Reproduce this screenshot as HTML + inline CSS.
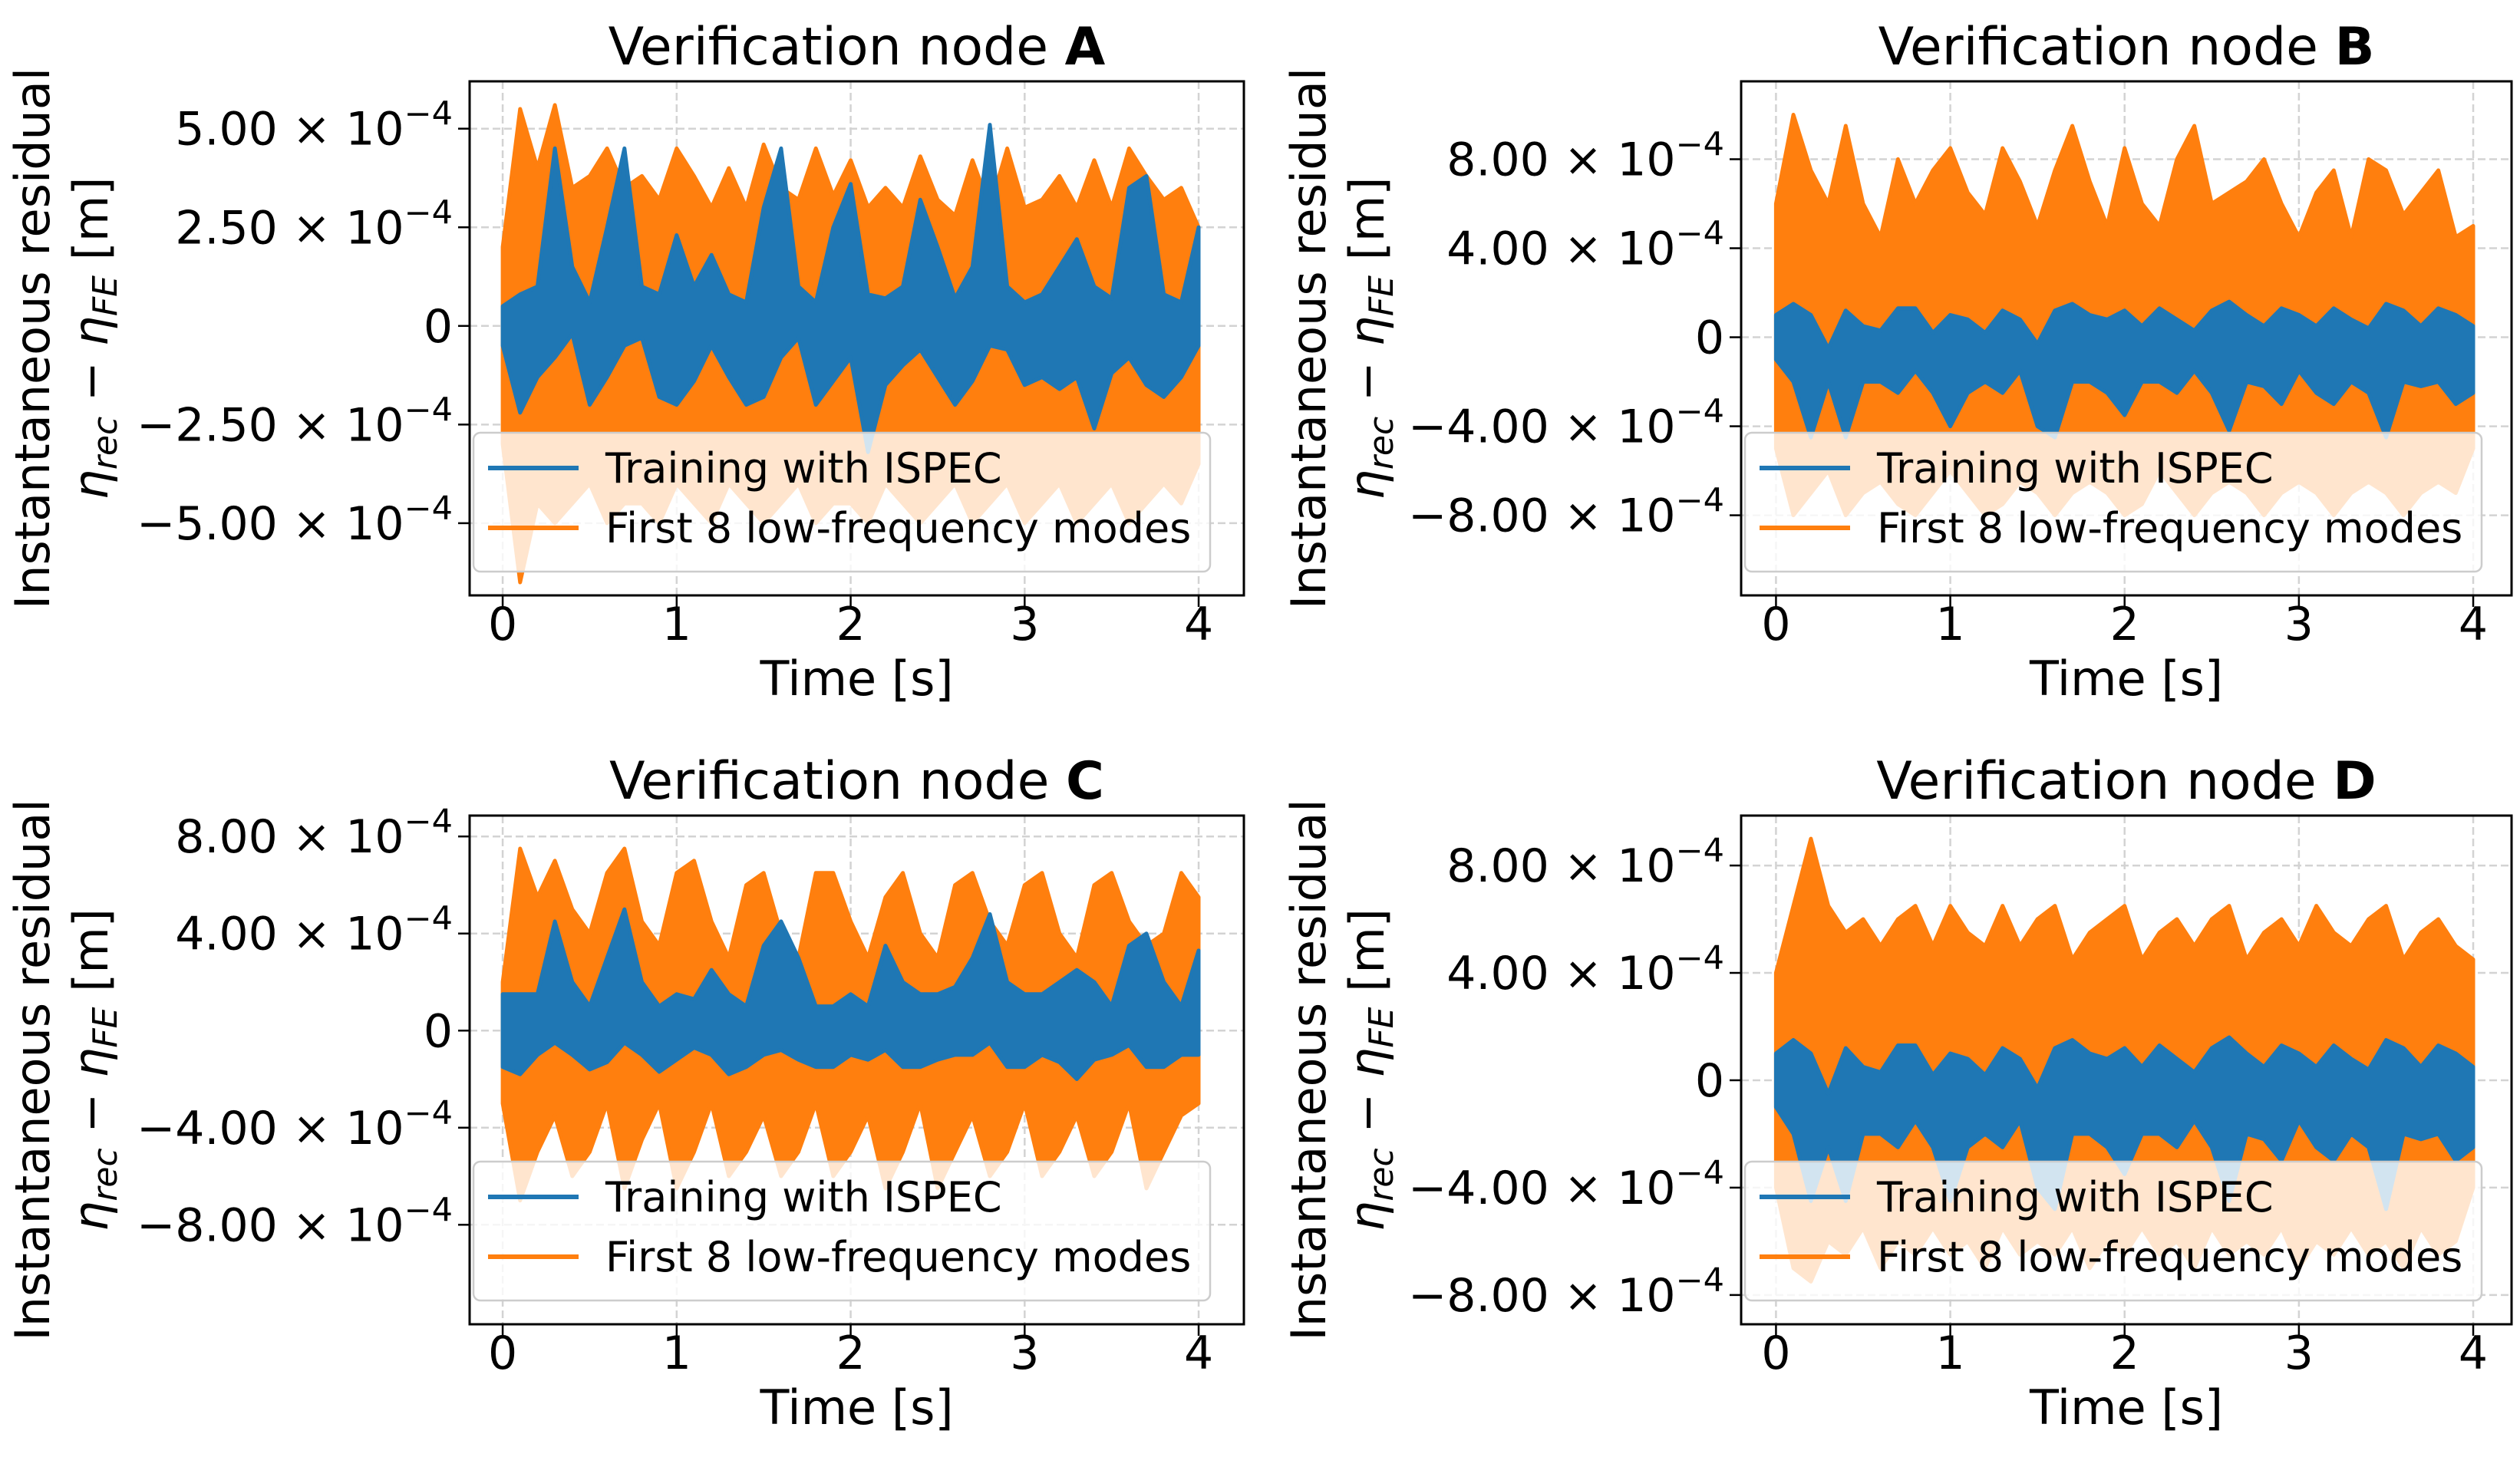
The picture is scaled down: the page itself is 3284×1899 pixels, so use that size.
<!DOCTYPE html>
<html><head><meta charset="utf-8">
<style>
html,body{margin:0;padding:0;background:#fff;}
svg{display:block;font-family:"DejaVu Sans","Liberation Sans",sans-serif;}
</style></head>
<body>
<svg id="fig" width="3284" height="1899" viewBox="0 0 3284 1899" xmlns="http://www.w3.org/2000/svg">
<rect width="3284" height="1899" fill="#fff"/>
</svg>
<script>
// time samples (s)
const timeA = [0,0.1,0.2,0.3,0.4,0.5,0.6,0.7,0.8,0.9,1.0,1.1,1.2,1.3,1.4,1.5,1.6,1.7,1.8,1.9,2.0,2.1,2.2,2.3,2.4,2.5,2.6,2.7,2.8,2.9,3.0,3.1,3.2,3.3,3.4,3.5,3.6,3.7,3.8,3.9,4.0];
// values in units of 1e-4 m
const orangeUpperA = [2,5.5,4,5.6,3.5,3.8,4.5,3.5,3.8,3.2,4.5,3.8,3,4,3,4.6,3.5,3.2,4.5,3.3,4.2,3,3.5,3,4.3,3.2,2.8,4.2,3,4.5,3,3.2,3.8,3,4.2,3,4.5,3.8,3.2,3.5,2.5];
const orangeLowerA = [-3,-6.5,-4.5,-5,-4.5,-4,-5,-4.5,-4.5,-5,-4,-4.5,-5,-4,-4.5,-5,-4.5,-4,-5,-4.5,-4.5,-5,-4,-4.5,-5,-4.5,-4,-5,-4.5,-4,-5,-4.5,-4,-5,-4.5,-4,-5,-4.5,-4,-4.5,-3.5];
const blueUpperA = [0.5,0.8,1,4.5,1.5,0.6,2.5,4.5,1,0.8,2.3,1,1.8,0.8,0.6,3,4.5,1,0.6,2.5,3.6,0.8,0.7,1,3.2,2,0.7,1.5,5.1,1,0.6,0.8,1.5,2.2,1,0.7,3.5,3.8,0.8,0.6,2.5];
const blueLowerA = [-0.5,-2.2,-1.3,-0.8,-0.2,-2,-1.3,-0.5,-0.3,-1.8,-2,-1.4,-0.5,-1.3,-2,-1.8,-0.8,-0.3,-2,-1.4,-0.8,-3.2,-1.5,-1,-0.6,-1.3,-2,-1.4,-0.5,-0.6,-1.5,-1.3,-1.6,-1.3,-2.6,-1.2,-0.8,-1.5,-1.8,-1.3,-0.5];

const orangeUpperB = [6,10,7.5,6,9.5,6,4.5,8,6,7.5,8.5,6.5,5.5,8.5,7,5,7.5,9.5,7,5,8.5,6,5,8,9.5,6,6.5,7,8,6,4.5,6.5,7.5,4.5,8,7.5,5.5,6.5,7.5,4.5,5];
const orangeLowerB = [-5,-8,-7,-6,-8,-7,-6.5,-7.5,-8,-7,-6,-7,-8,-7.5,-6.5,-7,-8,-7,-6.5,-7,-8,-7.5,-6,-7,-8,-7,-6.5,-7,-8,-7,-6.5,-7,-8,-7,-6.5,-7,-8,-7,-6.5,-7,-5];
const blueUpperB = [1,1.5,1,-0.5,1.2,0.5,0.3,1.3,1.3,0.2,1,0.8,0.2,1.2,0.8,-0.3,1.2,1.5,1,0.8,1.2,0.5,1.3,0.8,0.3,1.2,1.6,1,0.5,1.3,1,0.5,1.3,0.8,0.4,1.5,1.2,0.5,1.3,1,0.5];
const blueLowerB = [-1,-2,-4.5,-2,-4.5,-2,-2,-2.5,-1.5,-2.5,-4,-2.5,-2,-2.5,-1.5,-4,-4.5,-2,-2,-2.5,-3.5,-2,-2,-2.5,-1.5,-2.5,-4.2,-2,-2.2,-3,-1.5,-2.5,-3,-2,-2.5,-4.5,-2,-2.2,-2,-3,-2.5];

const orangeUpperC = [2,7.5,5.5,7,5,4,6.5,7.5,4.5,3.5,6.5,7,4.5,3,6,6.5,4,3,6.5,6.5,4.5,3,5.5,6.5,4,3,6,6.5,4.5,3.5,6,6.5,4,3,6,6.5,4.5,3.5,4,6.5,5.5];
const orangeLowerC = [-3,-7,-5,-3.5,-6,-5,-3,-6.5,-4.5,-3,-6.5,-5,-3,-6,-5,-3.5,-6,-5,-3,-6,-5,-3.5,-6.5,-5,-3,-6.5,-5,-3.5,-6,-5,-3,-6,-5,-3.5,-6,-5,-3,-6.5,-5,-3.5,-3];
const blueUpperC = [1.5,1.5,1.5,4.5,2,1,3,5,2,1,1.5,1.3,2.5,1.5,1,3.5,4.5,3,1,1,1.5,1,3.5,2,1.5,1.5,1.8,3,4.8,2,1.5,1.5,2,2.5,2,1,3.5,4,2,1,3.3];
const blueLowerC = [-1.5,-1.8,-1,-0.5,-1,-1.6,-1.3,-0.5,-1,-1.7,-1.2,-0.7,-1,-1.8,-1.5,-1,-0.8,-1.2,-1.5,-1.5,-1,-1.2,-0.8,-1.5,-1.5,-1.2,-1,-1,-0.5,-1.5,-1.5,-1,-1.3,-2,-1.2,-1,-0.6,-1.5,-1.5,-1,-1];

const orangeUpperD = [4,6.5,9,6.5,5.5,6,5,6,6.5,5,6.5,5.5,5,6.5,5,6,6.5,4.5,5.5,6,6.5,4.5,5.5,6,5,6,6.5,4.5,5.5,6,5,6.5,5.5,5,6,6.5,4.5,5.5,6,5,4.5];
const orangeLowerD = [-4,-7,-7.5,-6,-6.5,-5.5,-7,-6,-6.5,-5.5,-6.5,-6,-7,-5.5,-6.5,-6,-6.5,-5.5,-7,-6,-6.5,-5.5,-6.5,-6,-7,-5.5,-6.5,-6,-6.5,-5.5,-7,-6,-6.5,-5.5,-6.5,-6,-7,-5.5,-6.5,-6,-4];
const blueUpperD = [1,1.5,1,-0.5,1.2,0.5,0.3,1.3,1.3,0.2,1,0.8,0.2,1.2,0.8,-0.3,1.2,1.5,1,0.8,1.2,0.5,1.3,0.8,0.3,1.2,1.6,1,0.5,1.3,1,0.5,1.3,0.8,0.4,1.5,1.2,0.5,1.3,1,0.5];
const blueLowerD = [-1,-2,-4.5,-2.5,-4.5,-2,-2,-2.5,-1.5,-2.5,-4.5,-2.5,-2,-2.5,-1.5,-4,-4.8,-2,-2,-2.5,-3.5,-2,-2,-2.5,-1.5,-2.5,-4.5,-2,-2.2,-3,-1.5,-2.5,-3,-2,-2.5,-4.8,-2,-2.2,-2,-3,-2.5];

const xTicks = [0,1,2,3,4];
const yTicksA = [-5,-2.5,0,2.5,5];
const yTickLabelsA = ["−5.00","−2.50","0","2.50","5.00"];
const yTicksB = [-8,-4,0,4,8];
const yTickLabelsB = ["−8.00","−4.00","0","4.00","8.00"];
const seriesNames = ["Training with ISPEC","First 8 low-frequency modes"];
const nodeLetters = ["A","B","C","D"];

const NS = "http://www.w3.org/2000/svg";
const svg = document.getElementById('fig');
function mk(tag, attrs, parent){
  const e = document.createElementNS(NS, tag);
  for (const k in attrs) e.setAttribute(k, attrs[k]);
  (parent||svg).appendChild(e);
  return e;
}
const FS = 60;

const panels = [
  {L:612,R:1621,T:106,B:776,xmin:-0.19,xmax:4.26,ymin:-6.83,ymax:6.2,ticks:yTicksA,labels:yTickLabelsA,
   ou:orangeUpperA,ol:orangeLowerA,bu:blueUpperA,bl:blueLowerA,letter:nodeLetters[0],ylx:42},
  {L:2269,R:3273,T:106,B:776,xmin:-0.2,xmax:4.22,ymin:-11.6,ymax:11.5,ticks:yTicksB,labels:yTickLabelsB,
   ou:orangeUpperB,ol:orangeLowerB,bu:blueUpperB,bl:blueLowerB,letter:nodeLetters[1],ylx:1705},
  {L:612,R:1621,T:1063,B:1726,xmin:-0.19,xmax:4.26,ymin:-12.1,ymax:8.86,ticks:yTicksB,labels:yTickLabelsB,
   ou:orangeUpperC,ol:orangeLowerC,bu:blueUpperC,bl:blueLowerC,letter:nodeLetters[2],ylx:42},
  {L:2269,R:3273,T:1063,B:1726,xmin:-0.2,xmax:4.22,ymin:-9.09,ymax:9.86,ticks:yTicksB,labels:yTickLabelsB,
   ou:orangeUpperD,ol:orangeLowerD,bu:blueUpperD,bl:blueLowerD,letter:nodeLetters[3],ylx:1705}
];

panels.forEach((p, i) => {
  const g = mk('g', {});
  
  
  const xs = v => p.L + (v - p.xmin) / (p.xmax - p.xmin) * (p.R - p.L);
  const ys = v => p.B - (v - p.ymin) / (p.ymax - p.ymin) * (p.B - p.T);
  const cid = 'clip' + i;
  const cp = mk('clipPath', {id: cid}, g);
  mk('rect', {x:p.L, y:p.T, width:p.R-p.L, height:p.B-p.T}, cp);

  xTicks.forEach(t => {
    const l = mk('line', {x1:xs(t), x2:xs(t), y1:p.T, y2:p.B, stroke:'#d3d3d3', 'stroke-width':2.5, 'stroke-dasharray':'10,5'}, g);
    
    
  });
  p.ticks.forEach(t => {
    const l = mk('line', {x1:p.L, x2:p.R, y1:ys(t), y2:ys(t), stroke:'#d3d3d3', 'stroke-width':2.5, 'stroke-dasharray':'10,5'}, g);
    
    
  });

  const band = (up, lo, color, name) => {
    let d = '';
    timeA.forEach((t, k) => { d += (k ? 'L' : 'M') + xs(t).toFixed(1) + ',' + ys(up[k]).toFixed(1); });
    for (let k = timeA.length - 1; k >= 0; k--) d += 'L' + xs(timeA[k]).toFixed(1) + ',' + ys(lo[k]).toFixed(1);
    d += 'Z';
    const e = mk('path', {d:d, fill:color, stroke:color, 'stroke-width':5, 'stroke-linejoin':'round', 'clip-path':'url(#'+cid+')'}, g);
    
    
  };
  band(p.ou, p.ol, '#ff7f0e', 'series-first-8-modes');
  band(p.bu, p.bl, '#1f77b4', 'series-training-ispec');

  // legend
  const lx = p.L + 5, lw = 960, lh = 181, ly = p.B - 31 - lh;
  const lg = mk('g', {}, g);
  
  
  mk('rect', {x:lx, y:ly, width:lw, height:lh, rx:9, fill:'#fff', 'fill-opacity':0.8, stroke:'#cccccc', 'stroke-width':2.5}, lg);
  [['#1f77b4', seriesNames[0], 'legend-entry-ispec'], ['#ff7f0e', seriesNames[1], 'legend-entry-modes']].forEach((s, k) => {
    const cy = ly + 46 + k * 78;
    const eg = mk('g', {}, lg);
    
    
    mk('line', {x1:lx+19, x2:lx+137, y1:cy, y2:cy, stroke:s[0], 'stroke-width':6}, eg);
    const tx = mk('text', {x:lx+172, y:cy+19, 'font-size':54, fill:'#000'}, eg);
    tx.textContent = s[1];
  });

  const sp = mk('rect', {x:p.L, y:p.T, width:p.R-p.L, height:p.B-p.T, fill:'none', stroke:'#000', 'stroke-width':3}, g);
  
  

  xTicks.forEach(t => {
    mk('line', {x1:xs(t), x2:xs(t), y1:p.B, y2:p.B+15, stroke:'#000', 'stroke-width':2.5}, g);
    const tx = mk('text', {x:xs(t), y:p.B+58, 'font-size':FS, 'text-anchor':'middle'}, g);
    
    
    tx.textContent = String(t);
  });
  p.ticks.forEach((t, k) => {
    mk('line', {x1:p.L-15, x2:p.L, y1:ys(t), y2:ys(t), stroke:'#000', 'stroke-width':2.5}, g);
    const tx = mk('text', {x:p.L-22, y:ys(t)+21, 'font-size':FS, 'text-anchor':'end'}, g);
    
    
    if (t === 0) { tx.textContent = '0'; }
    else {
      const a = mk('tspan', {}, tx); a.textContent = p.labels[k] + ' × 10';
      const b = mk('tspan', {dy:-26, 'font-size':43}, tx); b.textContent = '−4';
    }
  });

  const ti = mk('text', {x:(p.L+p.R)/2, y:p.T-22, 'font-size':68, 'text-anchor':'middle'}, g);
  
  
  const t1 = mk('tspan', {}, ti); t1.textContent = 'Verification node ';
  const t2 = mk('tspan', {'font-weight':'bold'}, ti); t2.textContent = p.letter;

  const xl = mk('text', {x:(p.L+p.R)/2, y:p.B+130, 'font-size':62, 'text-anchor':'middle'}, g);
  
  
  xl.textContent = 'Time [s]';

  const cy = (p.T + p.B) / 2;
  const yl = mk('text', {transform:'translate('+(p.ylx+22)+','+cy+') rotate(-90)', 'font-size':62, 'text-anchor':'middle'}, g);
  
  
  yl.textContent = 'Instantaneous residual';
  const yl2 = mk('text', {transform:'translate('+(p.ylx+98)+','+cy+') rotate(-90)', 'font-size':62, 'text-anchor':'middle'}, g);
  
  
  const s1 = mk('tspan', {'font-style':'italic'}, yl2); s1.textContent = 'η';
  const s2 = mk('tspan', {'font-style':'italic', 'font-size':44, dy:12}, yl2); s2.textContent = 'rec';
  const s3 = mk('tspan', {dy:-12}, yl2); s3.textContent = ' − ';
  const s4 = mk('tspan', {'font-style':'italic'}, yl2); s4.textContent = 'η';
  const s5 = mk('tspan', {'font-style':'italic', 'font-size':44, dy:12}, yl2); s5.textContent = 'FE';
  const s6 = mk('tspan', {dy:-12}, yl2); s6.textContent = ' [m]';
});
</script>
</body></html>
